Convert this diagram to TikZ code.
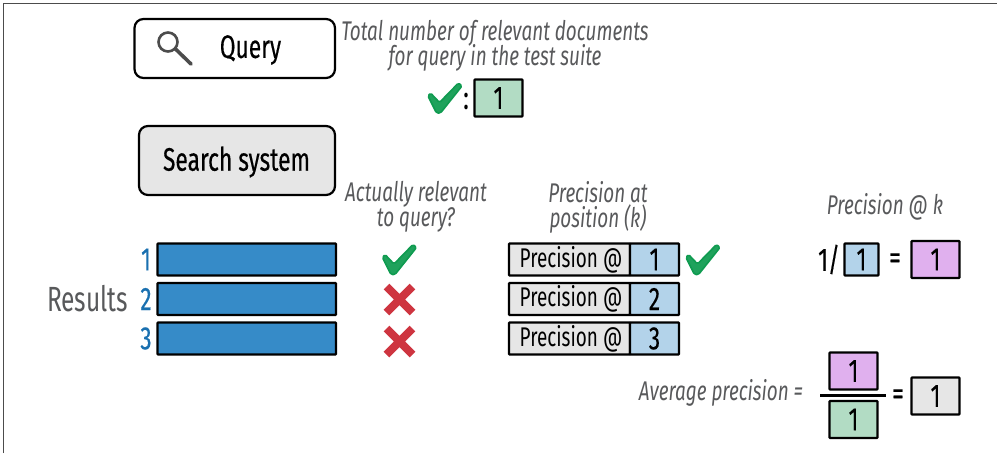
\documentclass[tikz,border=0pt]{standalone}
\usepackage{fontspec}
\setmainfont[FakeStretch=0.70]{Fira Sans}
\newfontfamily\heavyfont[FakeStretch=0.70,FakeBold=0.35]{Fira Sans}
\newcommand{\tightlines}{\lineskiplimit=-20pt\relax}
\definecolor{bluebar}{HTML}{368BC8}
\definecolor{bluenum}{HTML}{1A70B0}
\definecolor{lblue}{HTML}{B3D3EA}
\definecolor{lgreen}{HTML}{B2DCC4}
\definecolor{lgray}{HTML}{E6E6E6}
\definecolor{lpurple}{HTML}{E0B0EE}
\definecolor{okgreen}{HTML}{0F9B50}
\definecolor{okfill}{HTML}{1FA25C}
\definecolor{nored}{HTML}{CE3540}
\definecolor{captext}{HTML}{58595B}
\tikzset{
  x=1pt,y=-1pt,
  bigtext/.style={font=\fontsize{32.5}{32.5}\selectfont\heavyfont},
  boxed/.style={draw=black,line width=2.2pt,inner sep=0pt,bigtext},
  bar/.style={draw=black,line width=2.2pt,fill=bluebar,rounded corners=0.6pt},
  cell/.style={boxed,rounded corners=0.6pt},
  plain/.style={inner sep=0pt,align=center},
  caption/.style={plain,text=captext,font=\fontsize{27}{25}\selectfont\itshape\tightlines},
  okmark/.style={draw=okgreen,fill=okfill,line width=1.6pt,line join=round,rounded corners=1.5pt},
  nomark/.style={draw=nored,line width=8pt},
}
\newcommand{\okat}[2]{\draw[okmark,shift={(#1,#2)}] (-17,-2) -- (-14.5,-5) -- (-5.5,4.5) -- (13.5,-15) -- (17,-12) -- (-4.5,15) -- (-8.5,15) -- cycle;}
\newcommand{\noat}[2]{\draw[nomark,shift={(#1,#2)}] (-13,-13) -- (13,13) (-13,13) -- (13,-13);}
\begin{document}
\begin{tikzpicture}
\useasboundingbox (0,0) rectangle (997,453);
\draw[line width=1pt,draw=black!70] (3.5,453) -- (3.5,3.5) -- (997,3.5);
% query
\draw[line width=2.2pt,rounded corners=9pt] (134.5,19) rectangle (335,78);
\draw[line width=2.6pt,draw=black!70] (168,42) circle (9.5);
\draw[line width=3.6pt,draw=black!70,line cap=round] (175.5,49) -- (191,64);
\node[plain,bigtext] (query) at (250.5,50) {Query};
% search
\draw[line width=2.2pt,rounded corners=9pt,fill=lgray] (139,126) rectangle (335,195);
\node[plain,bigtext] (search) at (236.5,162) {Search system};
% captions
\node[caption] (total) at (495,46) {Total number of relevant documents\\for query in the test suite};
\node[caption] (actual) at (416,207) {Actually relevant\\to query?};
\node[caption] (patpos) at (598,207) {Precision at\\position (k)};
\node[caption] (patk) at (885,207) {Precision @ k};
\node[caption] (avg) at (721,393) {Average precision =};
% top total
\okat{445}{98}
\node[plain,bigtext] (colon) at (466,101) {:};
\node[cell,fill=lgreen,minimum width=48pt,minimum height=37pt] (tot) at (498.5,98) {1};
% results
\node[plain,text=captext,font=\fontsize{35}{35}\selectfont] (res) at (87.5,299) {Results};
\foreach \n/\y/\lab in {1/259.5/1,2/299/2,3/338.5/3}{
  \node[plain,text=bluenum,bigtext] (num\n) at (146,\y) {\lab};
  \draw[bar] (157.5,\y-16) rectangle (336,\y+16);
}
\okat{399.5}{259.5}
\noat{399.5}{299.5}
\noat{399.5}{341.5}
% precision rows
\foreach \n/\y in {1/259.5,2/299,3/338.5}{
  \node[cell,fill=lgray,minimum width=121pt,minimum height=32pt] (p\n) at (569.5,\y) {\hspace{3pt}\fontsize{27}{27}\selectfont\normalfont Precision @};
  \node[cell,fill=lblue,minimum width=49pt,minimum height=32pt] (v\n) at (654.5,\y) {\n};
}
\okat{703}{259.5}
% formula
\node[plain,bigtext] (oneover) at (829,259.5) {1/};
\node[cell,fill=lblue,minimum width=34pt,minimum height=32pt] (pk) at (861.5,259.5) {1};
\node[plain,bigtext] (eq1) at (895,261) {=};
\node[cell,fill=lpurple,minimum width=48pt,minimum height=37pt] (res1) at (935.5,259.5) {1};
% average
\node[cell,fill=lpurple,minimum width=48pt,minimum height=37pt] (num) at (853.5,371) {1};
\draw[line width=2.6pt] (820,395.5) -- (886,395.5);
\node[cell,fill=lgreen,minimum width=48pt,minimum height=37pt] (den) at (853.5,419.5) {1};
\node[plain,bigtext] (eq2) at (898,397) {=};
\node[cell,fill=lgray,minimum width=48pt,minimum height=37pt] (avgv) at (935.5,396) {1};
\end{tikzpicture}
\end{document}
